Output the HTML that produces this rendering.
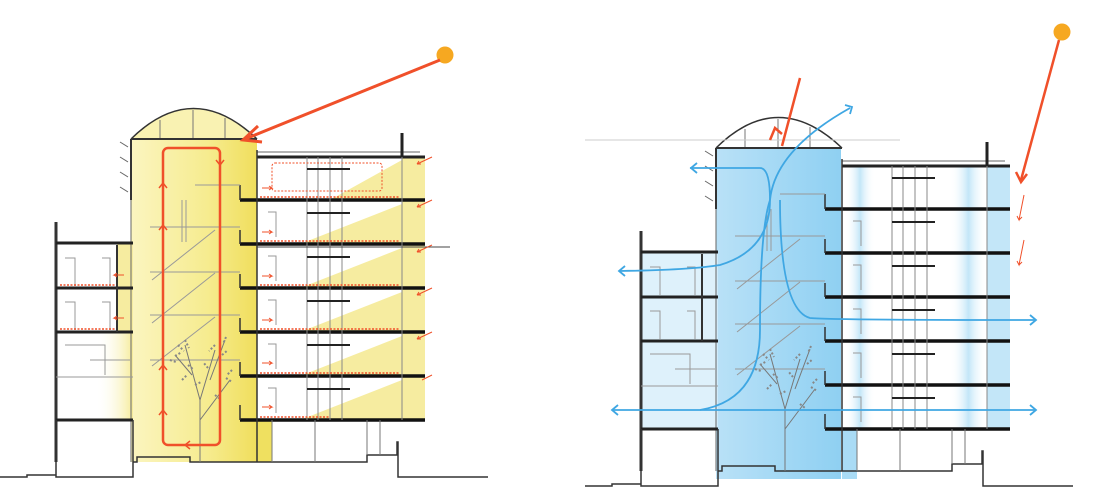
<!DOCTYPE html>
<html><head><meta charset="utf-8"><style>html,body{margin:0;padding:0;background:#fff;}svg{display:block}</style></head>
<body>
<svg width="1100" height="498" viewBox="0 0 1100 498" xmlns="http://www.w3.org/2000/svg">
<defs>
<linearGradient id="yA" x1="0" x2="1"><stop offset="0" stop-color="#fbf5c0"/><stop offset="0.6" stop-color="#f6ec90"/><stop offset="1" stop-color="#f0de5c"/></linearGradient>
<linearGradient id="yL" x1="0" x2="1"><stop offset="0" stop-color="#fff" stop-opacity="0"/><stop offset="1" stop-color="#f6ec9a"/></linearGradient>
<linearGradient id="bA" x1="0" x2="1"><stop offset="0" stop-color="#b9e1f7"/><stop offset="1" stop-color="#8fd0f2"/></linearGradient>
<linearGradient id="bS" x1="0" x2="1"><stop offset="0" stop-color="#fff" stop-opacity="0"/><stop offset="0.5" stop-color="#c3e6f8"/><stop offset="1" stop-color="#fff" stop-opacity="0"/></linearGradient>
<g id="bld" fill="none" stroke="#333">
  <path d="M131,139 Q193,78 257,139" stroke-width="1.5"/>
  <path d="M160,120 V139 M193,110 V139 M225,118 V139" stroke="#777" stroke-width="1"/>
  <path d="M131,139 H257" stroke-width="2"/>
  <path d="M120,142 l8,5 M120,157 l8,5 M120,172 l8,5 M120,187 l8,5" stroke="#666"/>
  <path d="M131,139 V200" stroke-width="2"/>
  <path d="M131,200 V462" stroke="#666"/>
  <path d="M257,152 H420" stroke="#666"/>
  <path d="M257,157 H425" stroke-width="3" stroke="#222"/>
  <path d="M402,133 V157" stroke-width="3" stroke="#222"/>
  <g stroke="#111" stroke-width="3.5">
    <path d="M240,200 H425 M240,244 H425 M240,288 H425 M240,332 H425 M240,376 H425 M240,420 H425"/>
  </g>
  <path d="M240,185 V200 M240,230 V244 M240,274 V288 M240,318 V332 M240,362 V376 M240,405 V420" stroke-width="1.5"/>
  <path d="M257,150 V462" stroke-width="1.5"/>
  <path d="M307,157 V420 M318,157 V420 M330,157 V420 M342,157 V420" stroke="#888"/>
  <path d="M307,169 H350 M307,213 H350 M307,257 H350 M307,301 H350 M307,345 H350 M307,389 H350" stroke-width="2" stroke="#222"/>
  <path d="M402,157 V420" stroke="#888"/>
  <path d="M268,212 h8 v25 M268,256 h8 v25 M268,300 h8 v25 M268,344 h8 v25 M268,388 h8 v25" stroke="#999"/>
  <path d="M195,185 H240 M150,227 H240 M150,272 H240 M150,315 H240 M150,360 H240" stroke="#999"/>
  <path d="M152,280 L215,230 M152,323 L215,273 M152,366 L215,317" stroke="#999"/>
  <path d="M182,200 v42 M186,200 v42" stroke="#999"/>
  <path d="M56,222 V462" stroke-width="3" stroke="#333"/>
  <path d="M56,243 H133 M56,288 H133 M56,332 H133 M56,420 H133" stroke-width="3" stroke="#222"/>
  <path d="M117,245 V332" stroke-width="2"/>
  <path d="M65,258 h10 v28 M102,258 h8 v28 M65,302 h10 v28 M102,302 h8 v28" stroke="#999"/>
  <path d="M56,377 H133 M65,345 h40 v30 M90,360 h40" stroke="#999"/>
  <path d="M0,477 H27 V475 H56 V477 M56,420 V477 H133 V420" stroke="#333" stroke-width="1.5"/>
  <path d="M133,462 H137 V457 H190 V462 H367 V455 H397 V442 H398 V477 H488" stroke="#333" stroke-width="1.5"/>
  <path d="M272,420 V462 M315,420 V462 M367,420 V455 M380,420 V455" stroke="#777"/>
  <g stroke="#777" stroke-width="1">
    <path d="M200,462 V400 L185,345 M200,400 L215,350 M200,420 L230,380 M192,375 L175,355 M210,380 L225,340"/>
  </g>
  <g stroke="#888" stroke-width="2" stroke-dasharray="2,2">
    <path d="M178,345 l6,6 M175,356 l7,-4 M185,340 l4,8 M215,345 l-6,6 M222,355 l6,-5 M226,337 l-3,7 M188,365 l6,5 M208,368 l-5,-6 M226,378 l6,4 M170,360 l6,2 M232,370 l-5,5 M195,385 l6,-3 M215,395 l5,4 M182,380 l5,-5"/>
  </g>
</g>
</defs>

<rect x="131" y="139" width="126" height="323" fill="url(#yA)"/>
<path d="M131,139 Q193,78 257,139 Z" fill="#f9f2b2"/>
<rect x="257" y="420" width="15" height="42" fill="#efe060"/>
<rect x="402" y="157" width="23" height="263" fill="#f6eca0"/>
<path d="M402,160 L330,200 H402Z M402,204 L300,244 H402Z M402,248 L300,288 H402Z M402,292 L300,332 H402Z M402,336 L300,376 H402Z M402,380 L300,420 H402Z" fill="#f6eca0"/>
<rect x="96" y="332" width="37" height="88" fill="url(#yL)"/>
<rect x="117" y="243" width="16" height="89" fill="#f6eca0"/>
<use href="#bld"/>
<path d="M257,247 H450" stroke="#444"/>
<rect x="163" y="148" width="57" height="297" rx="5" fill="none" stroke="#f0502a" stroke-width="2.5"/>
<path d="M159,188 l4,-5 l4,5 M159,230 l4,-5 l4,5 M159,370 l4,-5 l4,5 M159,415 l4,-5 l4,5 M216,160 l4,5 l4,-5 M190,441 l-5,4 l5,4" fill="none" stroke="#f0502a" stroke-width="1.5"/>
<g stroke="#f0502a" stroke-width="1.5" stroke-dasharray="2,1.5" fill="none">
<path d="M260,197 H400 M260,241 H400 M260,285 H400 M260,329 H400 M260,373 H400 M260,417 H330 M60,285 H115 M60,329 H115"/>
<rect x="272" y="163" width="110" height="28" rx="3" stroke-width="1"/>
</g>
<g stroke="#f0502a" stroke-width="1" fill="none">
<path d="M262,188 h10 l-3,-2 M272,188 l-3,2 M262,232 h10 l-3,-2 M272,232 l-3,2 M262,276 h10 l-3,-2 M272,276 l-3,2 M262,320 h10 l-3,-2 M272,320 l-3,2 M262,363 h10 l-3,-2 M272,363 l-3,2 M262,407 h10 l-3,-2 M272,407 l-3,2 M124,275 h-10 l3,-2 M114,275 l3,2 M124,318 h-10 l3,-2 M114,318 l3,2"/>
<path d="M432,157 l-15,7 l4,0 M417,164 l2,-3 M432,200 l-15,7 l4,0 M417,207 l2,-3 M432,245 l-15,7 l4,0 M417,252 l2,-3 M432,288 l-15,7 l4,0 M417,295 l2,-3 M432,332 l-15,7 l4,0 M417,339 l2,-3 M432,375 l-10,5"/>
</g>
<circle cx="445" cy="55" r="8.5" fill="#f6a821"/>
<path d="M440,60 L245,139" stroke="#f0502a" stroke-width="3"/>
<path d="M258,126 L243,140 L262,142" fill="none" stroke="#f0502a" stroke-width="3"/>

<g transform="translate(585,9)">
<rect x="131" y="139" width="125" height="331" fill="url(#bA)"/>
<rect x="56" y="243" width="77" height="177" fill="#d6eefa" opacity="0.8"/>
<rect x="260" y="157" width="30" height="263" fill="url(#bS)"/>
<rect x="365" y="157" width="37" height="263" fill="url(#bS)"/>
<rect x="402" y="157" width="23" height="263" fill="#c3e6f8"/>
<rect x="257" y="420" width="15" height="50" fill="#a9dbf5"/>
<use href="#bld"/>
</g>
<path d="M585,140 H900" stroke="#ccc"/>
<g fill="none" stroke="#3fa7e3" stroke-width="1.8">
<path d="M690,168 H760 Q770,168 770,200 Q770,250 720,265 Q690,270 620,271"/>
<path d="M770,200 Q775,150 850,108"/>
<path d="M780,200 Q780,310 810,318 Q830,320 1035,320"/>
<path d="M612,410 H1035"/>
<path d="M700,410 Q760,400 760,330 Q760,230 770,200"/>
<path d="M697,163 l-6,5 l6,5 M625,266 l-6,5 l6,5 M618,405 l-6,5 l6,5 M1030,315 l6,5 l-6,5 M1030,405 l6,5 l-6,5 M845,105 l7,2 l-2,7"/>
</g>
<circle cx="1062" cy="32" r="8.5" fill="#f6a821"/>
<path d="M1059,40 L1021,180" stroke="#f0502a" stroke-width="2.5"/>
<path d="M1016,172 L1021,182 L1027,174" fill="none" stroke="#f0502a" stroke-width="2.5"/>
<path d="M800,78 L782,146" stroke="#f0502a" stroke-width="2.5"/>
<path d="M770,140 L775,128 L782,134" fill="none" stroke="#f0502a" stroke-width="2.5"/>
<g stroke="#f0502a" stroke-width="1" fill="none"><path d="M1024,195 l-5,25 l-2,-4 M1019,220 l3,-3 M1024,240 l-5,25 l-2,-4 M1019,265 l3,-3"/></g>
</svg>
</body></html>
